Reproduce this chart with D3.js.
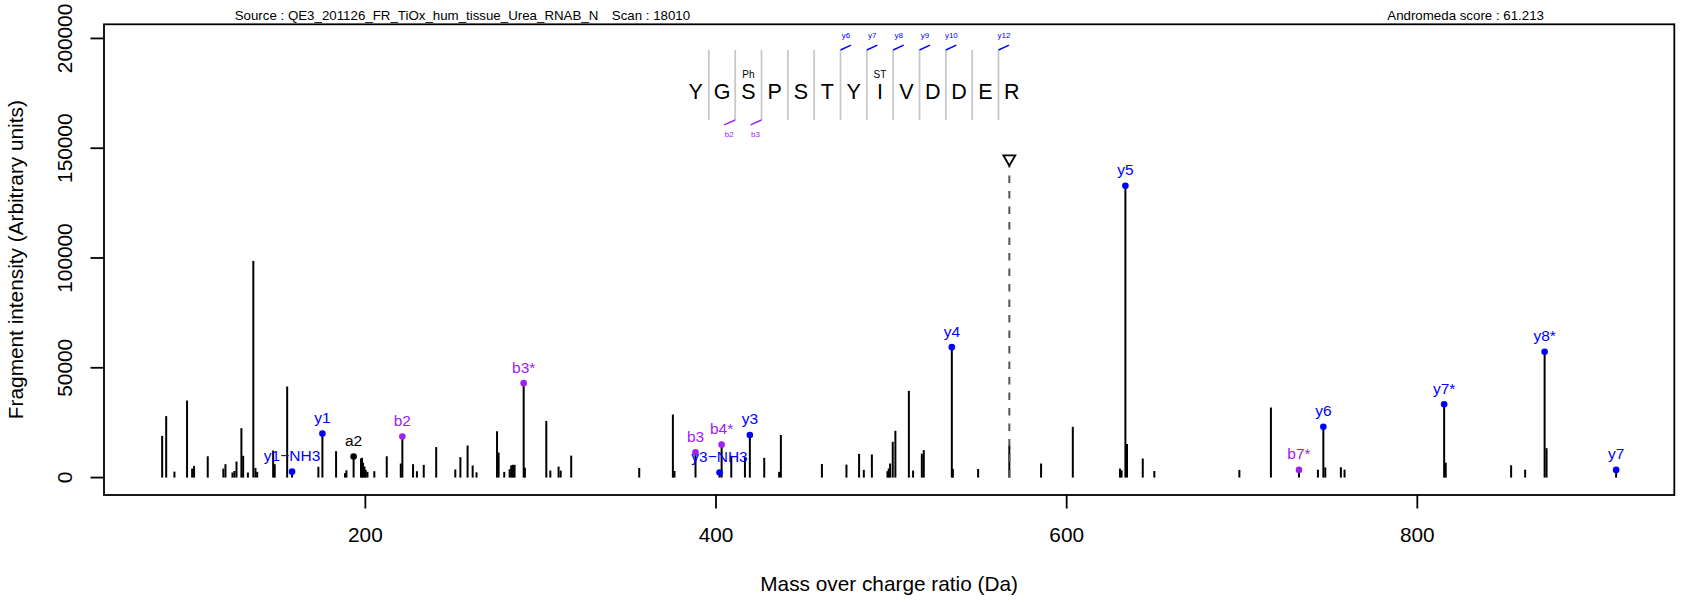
<!DOCTYPE html>
<html>
<head>
<meta charset="utf-8">
<script src="https://cdn.jsdelivr.net/npm/d3@7"></script>
<style>
  html, body { margin: 0; padding: 0; background: #fff; }
  svg { display: block; }
  text { font-family: "Liberation Sans", Arial, Helvetica, sans-serif; }
</style>
</head>
<body>
<svg id="chart" width="1685" height="603"></svg>
<script>
// ---------------- DATA ----------------
const sourceText = "Source : QE3_201126_FR_TiOx_hum_tissue_Urea_RNAB_N";
const scanText = "Scan : 18010";
const scoreText = "Andromeda score : 61.213";
const xTitle = "Mass over charge ratio (Da)";
const yTitle = "Fragment intensity (Arbitrary units)";

const xTicks = [200, 400, 600, 800];
const yTicks = [0, 50000, 100000, 150000, 200000];
const yAxisMax = 198500;

// unannotated peaks
const peakMz = [84.1, 86.4, 91.1, 98.3, 101.2, 102.3, 110.1, 119.0, 120.2, 124.2, 125.3, 126.5,
  129.3, 130.3, 133.0, 136.1, 137.3, 138.3, 147.4, 148.3, 155.4, 173.2, 183.3, 188.4, 189.2,
  197.5, 198.1, 198.7, 199.5, 200.2, 201.2, 205.1, 212.2, 220.2, 227.2, 229.4, 233.3, 240.4,
  251.3, 254.2, 258.3, 261.2, 263.4, 275.1, 276.0, 279.2, 282.3, 283.2, 284.2, 285.1, 291.0,
  303.2, 305.5, 310.2, 311.4, 317.4, 356.2, 375.4, 376.3, 408.7, 416.5, 427.5, 436.0, 437.0,
  460.4, 474.4, 481.6, 484.3, 488.9, 497.8, 498.5, 499.3, 500.8, 502.3, 510.0, 512.4, 517.4,
  518.5, 535.1, 549.5, 567.3, 585.4, 603.5, 630.4, 631.3, 634.4, 643.4, 650.0, 698.5, 716.5,
  743.3, 747.5, 756.4, 758.5, 816.2, 853.5, 861.5, 873.7];
const peakInt = [19000, 28000, 2700, 35100, 4100, 5300, 9700, 4100, 6100, 2300, 3000, 7300,
  22500, 9900, 2300, 98700, 4400, 2600, 12300, 6100, 41500, 4900, 12000, 2000, 3300,
  8700, 9000, 6800, 5000, 3500, 2600, 2900, 9700, 6400, 6100, 2900, 5800, 13900,
  3700, 9300, 14600, 5500, 2400, 21100, 11400, 2600, 3800, 5600, 5800, 5800, 4500,
  25800, 3200, 5000, 3200, 10000, 4400, 28700, 3000, 9900, 9100, 9000, 2600, 19400,
  6200, 5900, 10800, 3500, 10500, 2900, 4100, 6400, 16300, 21300, 39500, 3200, 10900,
  12500, 4000, 3900, 14700, 6400, 23100, 4100, 3300, 15300, 8700, 3000, 3500, 31900,
  3600, 4600, 4700, 3600, 6800, 5600, 3600, 13400];

// annotated fragment ions
const ionNames = ["y1\u2212NH3", "y1", "a2", "b2", "b3*", "b3", "y3\u2212NH3", "b4*", "y3", "y4",
  "y5", "b7*", "y6", "y7*", "y8*", "y7"];
const ionMz = [158.2, 175.5, 193.3, 221.1, 290.3, 388.3, 402.0, 403.2, 419.3, 534.5,
  633.5, 732.5, 746.4, 815.3, 872.6, 913.4];
const ionInt = [2700, 20100, 9600, 18700, 43000, 11500, 2300, 15000, 19400, 59400,
  132900, 3500, 23100, 33400, 57300, 3500];

// precursor
const precursorMz = 567.3;
const precursorLevel = 142000;

// peptide sequence and coverage
const sequence = ["Y", "G", "S", "P", "S", "T", "Y", "I", "V", "D", "D", "E", "R"];
const modPositions = [2, 7];          // 0-based residue index
const modLabels = ["Ph", "ST"];
const yCoverage = [6, 7, 8, 9, 10, 12];   // separator index (after residue k)
const bCoverage = [2, 3];

// ---------------- DRAWING ----------------
const svg = d3.select("#chart");
const box = { left: 104, right: 1674.3, top: 24.3, bottom: 495 };
const fontAxis = 20.8;

const allMz = peakMz.concat(ionMz);
const mzMin = d3.min(allMz), mzMax = d3.max(allMz), mzW = mzMax - mzMin;
const x = d3.scaleLinear()
  .domain([mzMin - 0.04 * mzW, mzMax + 0.04 * mzW])
  .range([box.left, box.right]);
const y = d3.scaleLinear()
  .domain([-0.04 * yAxisMax, 1.04 * yAxisMax])
  .range([box.bottom, box.top]);

const ionColor = n => n.startsWith("y") ? "#0000FF" : (n.startsWith("b") ? "#A020F0" : "#000000");

// peaks
const peaks = peakMz.map((m, i) => ({ mz: m, v: peakInt[i] }));
svg.append("g").selectAll("line").data(peaks).join("line")
  .attr("x1", d => x(d.mz)).attr("x2", d => x(d.mz))
  .attr("y1", y(0)).attr("y2", d => y(d.v))
  .attr("stroke", "#000").attr("stroke-width", 2);

// precursor dashed line + triangle
svg.append("line")
  .attr("x1", x(precursorMz)).attr("x2", x(precursorMz))
  .attr("y1", y(0)).attr("y2", y(precursorLevel))
  .attr("stroke", "#555").attr("stroke-width", 2)
  .attr("stroke-dasharray", "7.5,8");
{
  const px = x(precursorMz), py = y(precursorLevel);
  svg.append("path")
    .attr("d", `M${px},${py} L${px - 6},${py - 10.5} L${px + 6},${py - 10.5} Z`)
    .attr("fill", "#fff").attr("stroke", "#000").attr("stroke-width", 1.8)
    .attr("stroke-linejoin", "miter");
}

// annotated ions
const ions = ionNames.map((n, i) => ({ name: n, mz: ionMz[i], v: ionInt[i] }));
const gi = svg.append("g");
gi.selectAll("line").data(ions).join("line")
  .attr("x1", d => x(d.mz)).attr("x2", d => x(d.mz))
  .attr("y1", y(0)).attr("y2", d => y(d.v))
  .attr("stroke", "#000").attr("stroke-width", 2);
gi.selectAll("circle").data(ions).join("circle")
  .attr("cx", d => x(d.mz)).attr("cy", d => y(d.v)).attr("r", 3.3)
  .attr("fill", d => ionColor(d.name));
gi.selectAll("text").data(ions).join("text")
  .attr("x", d => x(d.mz)).attr("y", d => y(d.v) - 10.5)
  .attr("text-anchor", "middle").attr("font-size", 15.5)
  .attr("fill", d => ionColor(d.name))
  .text(d => d.name);

// frame
svg.append("rect")
  .attr("x", box.left).attr("y", box.top)
  .attr("width", box.right - box.left).attr("height", box.bottom - box.top)
  .attr("fill", "none").attr("stroke", "#000").attr("stroke-width", 1.8);

// x axis
const gx = svg.append("g");
gx.selectAll("line").data(xTicks).join("line")
  .attr("x1", d => x(d)).attr("x2", d => x(d))
  .attr("y1", box.bottom).attr("y2", box.bottom + 13.5)
  .attr("stroke", "#000").attr("stroke-width", 1.8);
gx.selectAll("text").data(xTicks).join("text")
  .attr("x", d => x(d)).attr("y", 541.7)
  .attr("text-anchor", "middle").attr("font-size", fontAxis)
  .text(d => d);

// y axis
const gy = svg.append("g");
gy.selectAll("line").data(yTicks).join("line")
  .attr("x1", box.left).attr("x2", box.left - 13.5)
  .attr("y1", d => y(d)).attr("y2", d => y(d))
  .attr("stroke", "#000").attr("stroke-width", 1.8);
gy.selectAll("text").data(yTicks).join("text")
  .attr("transform", d => `translate(71.7,${y(d)}) rotate(-90)`)
  .attr("text-anchor", "middle").attr("font-size", fontAxis)
  .text(d => d);

// axis titles
svg.append("text")
  .attr("x", (box.left + box.right) / 2).attr("y", 590.5)
  .attr("text-anchor", "middle").attr("font-size", fontAxis)
  .text(xTitle);
svg.append("text")
  .attr("transform", `translate(22.5,${(box.top + box.bottom) / 2}) rotate(-90)`)
  .attr("text-anchor", "middle").attr("font-size", fontAxis)
  .text(yTitle);

// header texts
svg.append("text").attr("x", 234.7).attr("y", 20).attr("font-size", 13.3).text(sourceText);
svg.append("text").attr("x", 611.8).attr("y", 20).attr("font-size", 13.3).text(scanText);
svg.append("text").attr("x", 1544).attr("y", 20).attr("text-anchor", "end").attr("font-size", 13.3).text(scoreText);

// peptide diagram
const pep = svg.append("g");
const px0 = 695.7, pstep = 26.33;
const lx = d3.scaleLinear().domain([0, 1]).range([px0, px0 + pstep]);
const sepTop = 50, sepBot = 120;
const seps = d3.range(1, sequence.length);
pep.selectAll("line.sep").data(seps).join("line")
  .attr("class", "sep")
  .attr("x1", k => lx(k - 0.5)).attr("x2", k => lx(k - 0.5))
  .attr("y1", sepTop).attr("y2", sepBot)
  .attr("stroke", "#c8c8c8").attr("stroke-width", 1.8);
pep.selectAll("text.res").data(sequence).join("text")
  .attr("class", "res")
  .attr("x", (d, i) => lx(i)).attr("y", 99.3)
  .attr("text-anchor", "middle").attr("font-size", 21.5)
  .text(d => d);
pep.selectAll("text.mod").data(modPositions).join("text")
  .attr("class", "mod")
  .attr("x", d => lx(d)).attr("y", 77.7)
  .attr("text-anchor", "middle").attr("font-size", 10)
  .text((d, i) => modLabels[i]);
// y coverage (top, blue)
pep.selectAll("line.yc").data(yCoverage).join("line")
  .attr("class", "yc")
  .attr("x1", k => lx(k - 0.5)).attr("x2", k => lx(k - 0.5) + 10.5)
  .attr("y1", sepTop).attr("y2", sepTop - 4.8)
  .attr("stroke", "#0000FF").attr("stroke-width", 1.4);
pep.selectAll("text.yc").data(yCoverage).join("text")
  .attr("class", "yc")
  .attr("x", k => lx(k - 0.5) + 5.5).attr("y", 37.5)
  .attr("text-anchor", "middle").attr("font-size", 8).attr("fill", "#0000FF")
  .text(k => "y" + k);
// b coverage (bottom, purple)
pep.selectAll("line.bc").data(bCoverage).join("line")
  .attr("class", "bc")
  .attr("x1", k => lx(k - 0.5)).attr("x2", k => lx(k - 0.5) - 11)
  .attr("y1", sepBot).attr("y2", sepBot + 4.8)
  .attr("stroke", "#A020F0").attr("stroke-width", 1.4);
pep.selectAll("text.bc").data(bCoverage).join("text")
  .attr("class", "bc")
  .attr("x", k => lx(k - 0.5) - 6).attr("y", 136.5)
  .attr("text-anchor", "middle").attr("font-size", 8).attr("fill", "#A020F0")
  .text(k => "b" + k);
</script>
</body>
</html>
